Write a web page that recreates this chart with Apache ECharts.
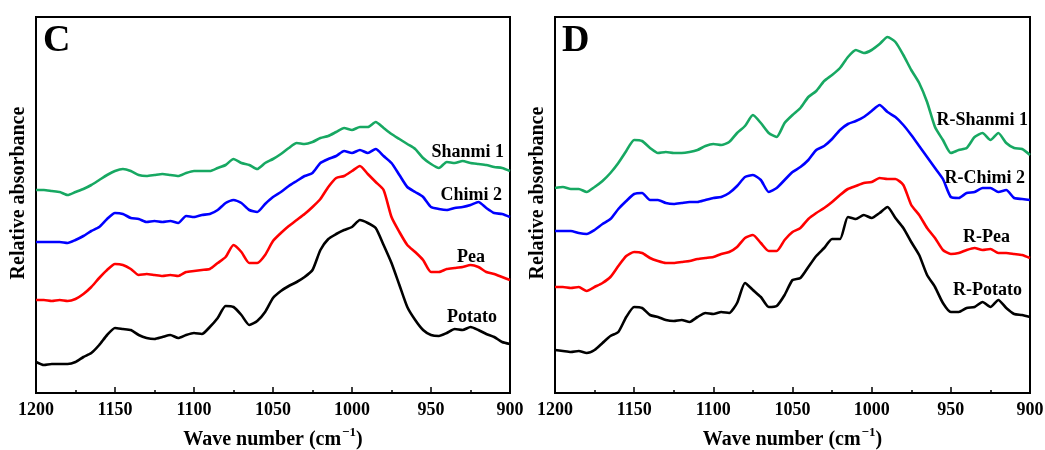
<!DOCTYPE html>
<html>
<head>
<meta charset="utf-8">
<script src="https://cdn.jsdelivr.net/npm/echarts@6/dist/echarts.min.js"></script>
<style>
html,body{margin:0;padding:0;background:#fff;}
#chart{width:1045px;height:450px;}
</style>
</head>
<body>
<div id="chart"></div>
<script>
// Wave numbers (cm-1)
const waveNumbers = [1200,1195,1190,1185,1180,1175,1170,1165,1160,1155,1150,1145,1140,1135,1130,1125,1120,1115,1110,1105,1100,1095,1090,1085,1080,1075,1070,1065,1060,1055,1050,1045,1040,1035,1030,1025,1020,1015,1010,1005,1000,995,990,985,980,975,970,965,960,955,950,945,940,935,930,925,920,915,910,905,900];
const xTicks = [1200,1150,1100,1050,1000,950,900];

// Panel C (relative absorbance, arbitrary units, offset-stacked)
const shanmi1 = [203,203,202,201,198,201,204,208,213,218,222,224,222,218,217,218,219,218,217,220,222,222,222,225,228,234,230,228,224,230,234,239,245,250,249,251,255,257,261,265,263,266,266,271,265,259,254,249,244,235,229,225,231,230,232,230,229,228,226,225,222];
const chimi2  = [151,151,151,151,150,153,157,162,166,174,180,179,175,174,171,172,171,172,170,177,176,178,179,183,190,193,190,183,181,189,196,201,207,212,217,220,230,234,237,242,240,243,240,244,237,230,218,206,201,196,186,184,183,185,186,188,191,185,180,179,176];
const pea     = [93,93,92,93,92,94,99,106,115,123,129,128,124,118,119,118,117,118,117,121,122,123,124,130,136,148,141,130,130,138,152,160,167,173,179,186,194,206,215,217,222,227,219,211,203,176,161,148,141,133,121,121,124,125,126,128,126,121,119,116,113];
const potato  = [31,28,29,29,29,31,36,40,48,58,65,64,63,58,55,54,56,58,55,58,60,59,66,75,87,86,78,68,72,81,95,102,107,111,116,123,143,154,159,163,166,173,170,165,148,130,108,86,73,63,58,57,60,64,63,66,63,59,56,51,49];

// Panel D (retrograded samples)
const rShanmi1 = [205,206,204,204,201,206,212,220,230,242,253,252,245,240,241,240,240,241,243,247,249,248,251,260,267,278,270,260,256,270,278,285,296,302,312,318,325,336,343,340,343,349,356,351,338,323,310,291,266,253,240,243,245,256,260,253,260,250,245,244,238];
const rChimi2  = [162,162,162,160,159,163,169,174,184,192,199,200,193,193,190,189,190,191,191,193,195,196,200,207,216,218,213,201,205,213,221,226,233,243,247,254,263,269,272,276,282,288,281,276,268,258,247,236,225,214,196,195,200,201,205,205,201,203,195,194,193];
const rPea     = [106,106,105,106,102,106,110,116,127,137,141,140,135,132,130,130,131,132,134,135,136,139,141,146,155,158,150,142,142,153,161,165,174,180,185,191,198,204,207,210,211,215,214,214,208,188,178,165,155,143,139,140,143,145,143,144,140,140,139,138,135];
const rPotato  = [43,42,41,42,40,43,50,57,61,76,86,85,78,76,73,72,73,71,76,80,79,81,80,90,110,103,96,86,87,98,113,115,126,137,145,154,154,176,174,178,175,180,186,175,165,151,138,118,106,90,81,81,85,86,91,86,93,85,79,78,76];

const seriesNamesC = ['Shanmi 1','Chimi 2','Pea','Potato'];
const seriesNamesD = ['R-Shanmi 1','R-Chimi 2','R-Pea','R-Potato'];
const colors = ['#17a862','#0000ff','#ff0000','#000000'];

const FONT = '"Liberation Serif","Times New Roman",serif';
const chart = echarts.init(document.getElementById('chart'));

function pairs(vals){ return waveNumbers.map((w,i)=>[w, vals[i]]); }

function xAxisFor(gi){
  return {
    type:'value', gridIndex:gi, min:900, max:1200, interval:50, inverse:true,
    axisLine:{show:true, onZero:false, lineStyle:{color:'#000', width:2}},
    axisTick:{show:true, inside:true, length:6, lineStyle:{color:'#000', width:1.5}},
    minorTick:{show:true, splitNumber:2, length:3, lineStyle:{color:'#000', width:1.5}},
    splitLine:{show:false},
    axisLabel:{color:'#000', fontFamily:FONT, fontWeight:'bold', fontSize:18, margin:8,
      formatter:function(v){ return xTicks.indexOf(v) >= 0 ? String(v) : ''; }},
    name:'{a|Wave number (cm}{s|−1}{a|)}',
    nameLocation:'middle', nameGap:33,
    nameTextStyle:{
      rich:{
        a:{fontFamily:FONT, fontWeight:'bold', fontSize:20, color:'#000', lineHeight:24, verticalAlign:'bottom'},
        s:{fontFamily:FONT, fontWeight:'bold', fontSize:13, color:'#000', lineHeight:24, verticalAlign:'top', padding:[0,0,0,1]}
      }
    }
  };
}
function yAxisFor(gi){
  return {
    type:'value', gridIndex:gi, min:0, max:376,
    axisLine:{show:true, lineStyle:{color:'#000', width:2}},
    axisTick:{show:false}, axisLabel:{show:false}, splitLine:{show:false}
  };
}

const series = [];
const dataC = [shanmi1, chimi2, pea, potato];
const dataD = [rShanmi1, rChimi2, rPea, rPotato];
dataC.forEach((d,i)=>series.push({
  name:seriesNamesC[i], type:'line', xAxisIndex:0, yAxisIndex:0, data:pairs(d),
  showSymbol:false, smooth:0.2, lineStyle:{color:colors[i], width:2.6}, itemStyle:{color:colors[i]}, z:3
}));
dataD.forEach((d,i)=>series.push({
  name:seriesNamesD[i], type:'line', xAxisIndex:1, yAxisIndex:1, data:pairs(d),
  showSymbol:false, smooth:0.2, lineStyle:{color:colors[i], width:2.6}, itemStyle:{color:colors[i]}, z:3
}));

function txt(text, x, y, opts){
  return Object.assign({
    type:'text', x:x, y:y, z:10,
    style:Object.assign({text:text, fill:'#000', font:'bold 18px '+FONT, textAlign:'right', textVerticalAlign:'middle'}, opts||{})
  });
}

const graphics = [
  txt('C', 43, 41, {font:'bold 38px '+FONT, textAlign:'left'}),
  txt('D', 562, 41, {font:'bold 38px '+FONT, textAlign:'left'}),
  {type:'text', x:19, y:193, rotation:Math.PI/2, z:10, style:{text:'Relative absorbance', fill:'#000', font:'bold 20px '+FONT, textAlign:'center', textVerticalAlign:'middle'}},
  {type:'text', x:538, y:193, rotation:Math.PI/2, z:10, style:{text:'Relative absorbance', fill:'#000', font:'bold 20px '+FONT, textAlign:'center', textVerticalAlign:'middle'}},
  txt(seriesNamesC[0], 504, 152),
  txt(seriesNamesC[1], 502, 195),
  txt(seriesNamesC[2], 485, 257),
  txt(seriesNamesC[3], 497, 317),
  txt(seriesNamesD[0], 1028, 120),
  txt(seriesNamesD[1], 1025, 178),
  txt(seriesNamesD[2], 1010, 237),
  txt(seriesNamesD[3], 1022, 290)
];

chart.setOption({
  animation:false,
  backgroundColor:'#fff',
  grid:[
    {left:36, right:535, top:17, bottom:57, show:true, borderColor:'#000', borderWidth:2, backgroundColor:'transparent', containLabel:false, outerBoundsMode:'none'},
    {left:555, right:15, top:17, bottom:57, show:true, borderColor:'#000', borderWidth:2, backgroundColor:'transparent', containLabel:false, outerBoundsMode:'none'}
  ],
  xAxis:[xAxisFor(0), xAxisFor(1)],
  yAxis:[yAxisFor(0), yAxisFor(1)],
  series:series,
  graphic:graphics
});
</script>
</body>
</html>
